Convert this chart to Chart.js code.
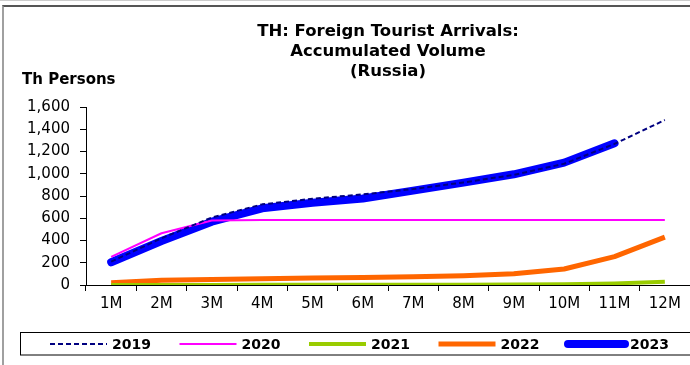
<!DOCTYPE html>
<html>
<head>
<meta charset="utf-8">
<script src="https://cdn.jsdelivr.net/npm/chart.js@4"></script>
<style>
  body { margin: 0; background: #fff; }
  #wrap { position: relative; width: 690px; height: 365px; overflow: hidden; }
  #topband { position: absolute; left: 0; top: 0; width: 690px; height: 1px; background: #cccccc; }
  #frame { position: absolute; left: 2px; top: 5px; width: 700px; height: 380px;
           border-top: 2px solid #555555; border-left: 2px solid #a0a0a0; }
  canvas { position: absolute; left: 0; top: 0; }
</style>
</head>
<body>
<div id="wrap">
  <div id="topband"></div>
  <div id="frame"></div>
  <canvas id="tourist_chart" width="690" height="365"></canvas>
</div>
<script>
  const months = ["1M", "2M", "3M", "4M", "5M", "6M", "7M", "8M", "9M", "10M", "11M", "12M"];
  const arrivals2019 = [210, 420, 607, 725, 775, 815, 862, 922, 990, 1090, 1268, 1483];
  const arrivals2020 = [252, 465, 580, 584, 584, 584, 584, 584, 584, 584, 584, 584];
  const arrivals2021 = [1, 1, 1, 2, 2, 2, 3, 3, 4, 6, 14, 30];
  const arrivals2022 = [20, 42, 50, 56, 62, 67, 74, 84, 102, 144, 255, 430];
  const arrivals2023 = [204, 395, 569, 689, 740, 778, 848, 920, 995, 1100, 1274, null];
  const yTicks = [0, 200, 400, 600, 800, 1000, 1200, 1400, 1600];

  const fontFamily = "'DejaVu Sans', sans-serif";

  // y axis caption in the top left corner
  const unitLabel = {
    id: "unitLabel",
    afterDraw(chart) {
      const ctx = chart.ctx;
      ctx.save();
      ctx.font = "bold 15px " + fontFamily;
      ctx.fillStyle = "#000";
      ctx.textAlign = "left";
      ctx.textBaseline = "middle";
      ctx.fillText("Th Persons", 22, 80);
      ctx.restore();
    },
  };

  // boxed legend at the bottom, lines taken from the datasets
  const boxLegend = {
    id: "boxLegend",
    afterDraw(chart) {
      const ctx = chart.ctx;
      const y = 344;
      ctx.save();
      ctx.strokeStyle = "#000";
      ctx.lineWidth = 1;
      ctx.strokeRect(20.5, 332.5, 700, 22.5);
      chart.data.datasets.forEach((ds, i) => {
        const x0 = 50 + i * 129.5;
        ctx.beginPath();
        ctx.setLineDash(ds.borderDash || []);
        ctx.lineCap = ds.borderCapStyle || "butt";
        ctx.strokeStyle = ds.borderColor;
        ctx.lineWidth = ds.borderWidth;
        ctx.moveTo(x0, y);
        ctx.lineTo(x0 + 57, y);
        ctx.stroke();
        ctx.setLineDash([]);
        ctx.font = "bold 14px " + fontFamily;
        ctx.fillStyle = "#000";
        ctx.textAlign = "left";
        ctx.textBaseline = "middle";
        ctx.fillText(ds.label, x0 + 62, y + 1);
      });
      ctx.restore();
    },
  };

  const data = {
    labels: months,
    datasets: [
      {
        label: "2019",
        data: arrivals2019,
        borderColor: "#000080",
        borderWidth: 2,
        borderDash: [5, 3],
      },
      {
        label: "2020",
        data: arrivals2020,
        borderColor: "#ff00ff",
        borderWidth: 2,
      },
      {
        label: "2021",
        data: arrivals2021,
        borderColor: "#99cc00",
        borderWidth: 4,
      },
      {
        label: "2022",
        data: arrivals2022,
        borderColor: "#ff6600",
        borderWidth: 5,
      },
      {
        label: "2023",
        data: arrivals2023,
        borderColor: "#0000ff",
        borderWidth: 8,
        borderCapStyle: "round",
      },
    ],
  };

  const config = {
    type: "line",
    data: data,
    plugins: [unitLabel, boxLegend],
    options: {
      responsive: false,
      animation: false,
      devicePixelRatio: 1,
      layout: { padding: { left: 0, right: 0, top: 0, bottom: 50 } },
      elements: {
        point: { radius: 0, hoverRadius: 0 },
        line: { tension: 0, borderJoinStyle: "round", fill: false },
      },
      scales: {
        x: {
          offset: true,
          grid: {
            offset: true,
            drawOnChartArea: false,
            tickLength: 6,
            color: "#000",
          },
          border: { color: "#000", width: 1 },
          ticks: {
            color: "#000",
            padding: 4,
            maxRotation: 0,
            font: { family: fontFamily, size: 15 },
          },
          afterFit(scale) {
            scale.height = 30;
          },
        },
        y: {
          min: 0,
          max: 1600,
          afterBuildTicks(scale) {
            scale.ticks = yTicks.map((v) => ({ value: v }));
          },
          grid: {
            drawOnChartArea: false,
            tickLength: 6,
            color: "#000",
          },
          border: { color: "#000", width: 1 },
          ticks: {
            color: "#000",
            padding: 10,
            font: { family: fontFamily, size: 15 },
            callback: (v) => Number(v).toLocaleString("en-US"),
          },
          afterFit(scale) {
            scale.width = 86;
          },
        },
      },
      plugins: {
        legend: { display: false },
        tooltip: { enabled: false },
        title: {
          display: true,
          fullSize: false,
          text: ["TH: Foreign Tourist Arrivals:", "Accumulated Volume", "(Russia)"],
          color: "#000",
          font: { family: fontFamily, size: 16.5, weight: "bold", lineHeight: 1.2 },
          padding: { top: 22, bottom: 25.6 },
        },
      },
    },
  };

  new Chart(document.getElementById("tourist_chart"), config);
</script>
</body>
</html>
